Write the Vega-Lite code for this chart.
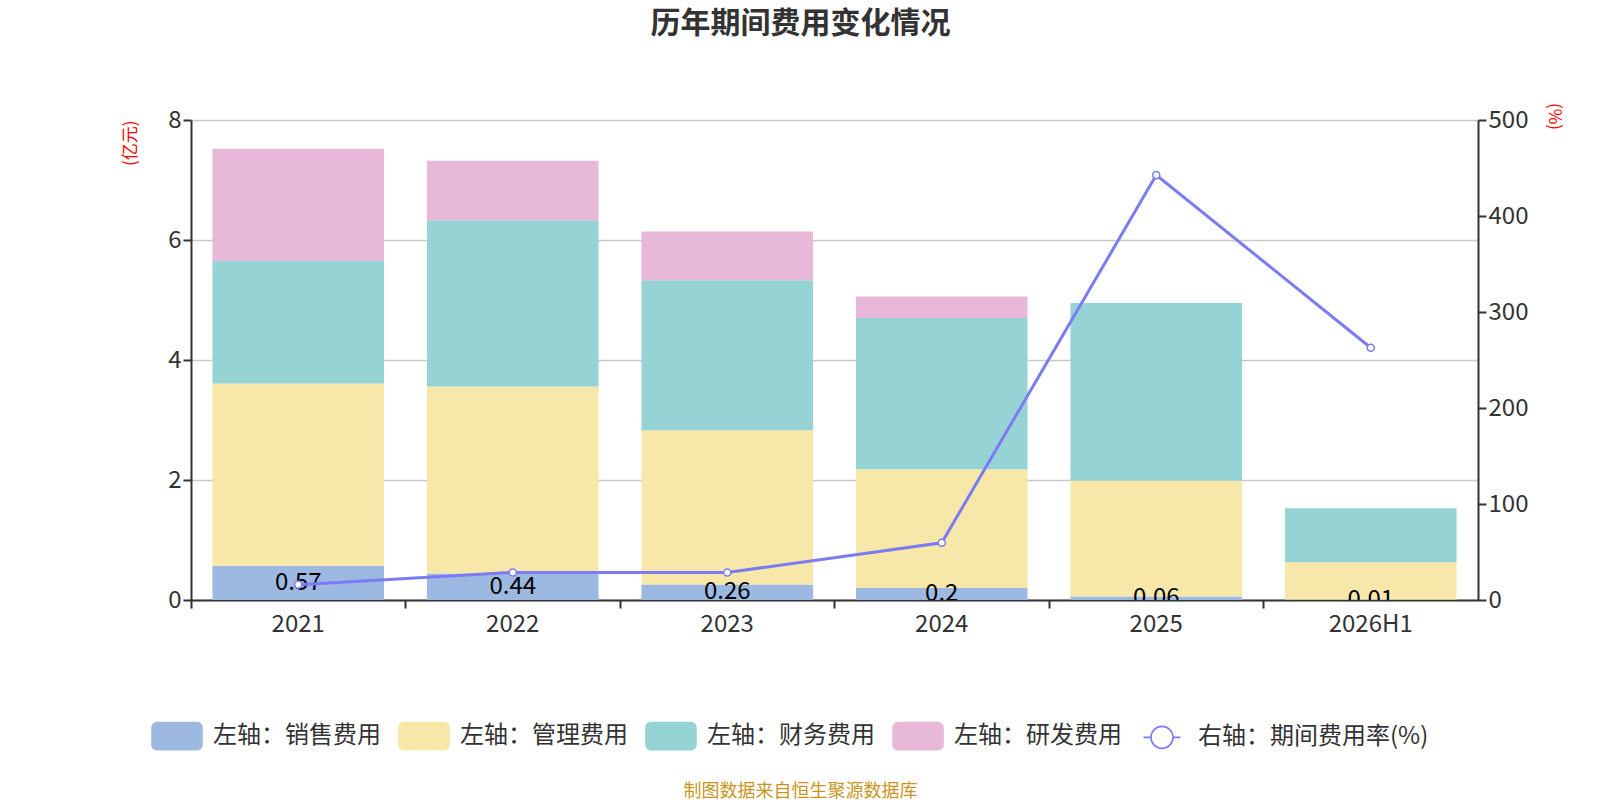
{
  "$schema": "https://vega.github.io/schema/vega-lite/v6.json",
  "autosize": {"type": "none"},
  "width": 1287,
  "height": 480,
  "padding": {"left": 191, "top": 120, "right": 122, "bottom": 200},
  "background": "white",
  "title": {
    "text": "历年期间费用变化情况",
    "font": "Noto Sans CJK SC",
    "fontSize": 30,
    "fontWeight": "bold",
    "color": "#333333",
    "anchor": "middle",
    "dx": -34,
    "offset": 63
  },
  "config": {
    "view": {"stroke": null},
    "font": "Noto Sans CJK SC",
    "axis": {
      "labelFont": "Noto Sans CJK SC",
      "labelFontSize": 24,
      "labelColor": "#333333",
      "domainColor": "#333333",
      "tickColor": "#333333",
      "domainWidth": 2,
      "tickWidth": 2,
      "tickSize": 8
    }
  },
  "datasets": {
    "cost": [
      {"year": "2021", "type": "左轴：销售费用", "value": 0.57},
      {"year": "2021", "type": "左轴：管理费用", "value": 3.04},
      {"year": "2021", "type": "左轴：财务费用", "value": 2.04},
      {"year": "2021", "type": "左轴：研发费用", "value": 1.87},
      {"year": "2022", "type": "左轴：销售费用", "value": 0.44},
      {"year": "2022", "type": "左轴：管理费用", "value": 3.12},
      {"year": "2022", "type": "左轴：财务费用", "value": 2.77},
      {"year": "2022", "type": "左轴：研发费用", "value": 0.99},
      {"year": "2023", "type": "左轴：销售费用", "value": 0.26},
      {"year": "2023", "type": "左轴：管理费用", "value": 2.57},
      {"year": "2023", "type": "左轴：财务费用", "value": 2.5},
      {"year": "2023", "type": "左轴：研发费用", "value": 0.81},
      {"year": "2024", "type": "左轴：销售费用", "value": 0.2},
      {"year": "2024", "type": "左轴：管理费用", "value": 1.98},
      {"year": "2024", "type": "左轴：财务费用", "value": 2.52},
      {"year": "2024", "type": "左轴：研发费用", "value": 0.36},
      {"year": "2025", "type": "左轴：销售费用", "value": 0.06},
      {"year": "2025", "type": "左轴：管理费用", "value": 1.93},
      {"year": "2025", "type": "左轴：财务费用", "value": 2.96},
      {"year": "2025", "type": "左轴：研发费用", "value": 0},
      {"year": "2026H1", "type": "左轴：销售费用", "value": 0.01},
      {"year": "2026H1", "type": "左轴：管理费用", "value": 0.62},
      {"year": "2026H1", "type": "左轴：财务费用", "value": 0.9},
      {"year": "2026H1", "type": "左轴：研发费用", "value": 0}
    ],
    "rate": [
      {"year": "2021", "rate": 16},
      {"year": "2022", "rate": 28.7},
      {"year": "2023", "rate": 28.7},
      {"year": "2024", "rate": 59.6},
      {"year": "2025", "rate": 442.6},
      {"year": "2026H1", "rate": 262.8}
    ]
  },
  "encoding": {
    "x": {
      "field": "year",
      "type": "nominal",
      "sort": null,
      "scale": {"paddingInner": 0.2, "paddingOuter": 0.1},
      "axis": {
        "title": "制图数据来自恒生聚源数据库",
        "titleColor": "#c8961e",
        "titleFontSize": 18,
        "titleFontWeight": "normal",
        "titlePadding": 146,
        "titleX": 609,
        "labelAngle": 0,
        "bandPosition": -0.125,
        "labelPadding": 4,
        "grid": false
      }
    }
  },
  "layer": [
    {
      "data": {"name": "cost"},
      "transform": [
        {"calculate": "indexof(['左轴：销售费用', '左轴：管理费用', '左轴：财务费用', '左轴：研发费用'], datum.type)", "as": "o"}
      ],
      "mark": {"type": "bar"},
      "encoding": {
        "y": {
          "field": "value",
          "type": "quantitative",
          "stack": "zero",
          "scale": {"domain": [0, 8]},
          "axis": {
            "title": "(亿元)",
            "titleColor": "red",
            "titleFontSize": 17,
            "titleFontWeight": "normal",
            "titleAnchor": "end",
            "titlePadding": 28,
            "values": [0, 2, 4, 6, 8],
            "grid": true,
            "gridColor": "#c8c8c8",
            "gridWidth": 1.5
          }
        },
        "order": {"field": "o", "type": "quantitative"},
        "color": {
          "field": "type",
          "type": "nominal",
          "scale": {
            "domain": ["左轴：销售费用", "左轴：管理费用", "左轴：财务费用", "左轴：研发费用", "右轴：期间费用率(%)"],
            "range": ["#9db9e2", "#f7e7a9", "#96d3d4", "#e8b8d8", "#7b7cf4"]
          },
          "legend": {
            "title": null,
            "orient": "none",
            "legendX": -40,
            "legendY": 590,
            "direction": "horizontal",
            "labelFontSize": 24,
            "labelColor": "#333333",
            "labelFont": "Noto Sans CJK SC",
            "labelOffset": 10,
            "labelLimit": 400,
            "columnPadding": 14,
            "symbolSize": 2500,
            "symbolType": "M-0.8,-0.54H0.8A0.2,0.2 0 0 1 1,-0.34V0.34A0.2,0.2 0 0 1 0.8,0.54H-0.8A0.2,0.2 0 0 1 -1,0.34V-0.34A0.2,0.2 0 0 1 -0.8,-0.54Z",
            "encode": {
              "symbols": {
                "update": {
                  "shape": {"signal": "datum.label == '右轴：期间费用率(%)' ? 'M-0.74,0H-0.44M0.44,0H0.74M0.44,0A0.44,0.44 0 1 1 -0.44,0A0.44,0.44 0 1 1 0.44,0Z' : 'M-0.8,-0.54H0.8A0.2,0.2 0 0 1 1,-0.34V0.34A0.2,0.2 0 0 1 0.8,0.54H-0.8A0.2,0.2 0 0 1 -1,0.34V-0.34A0.2,0.2 0 0 1 -0.8,-0.54Z'"},
                  "fillOpacity": {"signal": "datum.label == '右轴：期间费用率(%)' ? 0 : 1"},
                  "stroke": {"signal": "datum.label == '右轴：期间费用率(%)' ? '#7b7cf4' : 'transparent'"},
                  "strokeWidth": {"value": 1.6},
                  "opacity": {"value": 1}
                }
              }
            }
          }
        }
      }
    },
    {
      "data": {"name": "cost"},
      "transform": [
        {"filter": "datum.type == '左轴：销售费用'"},
        {"calculate": "datum.value / 2", "as": "mid"}
      ],
      "mark": {"type": "text", "fontSize": 24, "color": "black", "baseline": "middle", "clip": true},
      "encoding": {
        "y": {"field": "mid", "type": "quantitative", "scale": {"domain": [0, 8]}, "axis": null},
        "text": {"field": "value", "type": "quantitative"}
      }
    },
    {
      "data": {"name": "rate"},
      "layer": [
        {
          "mark": {"type": "line", "strokeWidth": 3},
          "encoding": {
            "y": {
              "field": "rate",
              "type": "quantitative",
              "scale": {"domain": [0, 500]},
              "axis": {
                "orient": "right",
                "title": "(%)",
                "titleColor": "red",
                "titleFontSize": 17,
                "titleFontWeight": "normal",
                "titleAnchor": "end",
                "titleY": -4,
                "titleAlign": "center",
                "titlePadding": 17,
                "values": [0, 100, 200, 300, 400, 500],
                "grid": false
              }
            },
            "color": {"datum": "右轴：期间费用率(%)"}
          }
        },
        {
          "mark": {"type": "point", "filled": true, "fill": "white", "stroke": "#7b7cf4", "strokeWidth": 1.5, "size": 50, "opacity": 1},
          "encoding": {
            "y": {"field": "rate", "type": "quantitative"}
          }
        }
      ]
    }
  ],
  "resolve": {"scale": {"y": "independent"}}
}
